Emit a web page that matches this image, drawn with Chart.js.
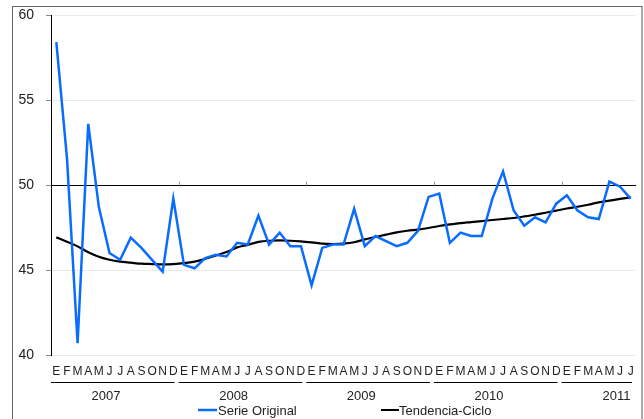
<!DOCTYPE html>
<html>
<head>
<meta charset="utf-8">
<script src="https://cdn.jsdelivr.net/npm/chart.js@4.4.1/dist/chart.umd.min.js"></script>
<style>
  html, body { margin: 0; padding: 0; background: #fff; }
  #wrap { position: relative; width: 644px; height: 419px; overflow: hidden; }
  #frame { position: absolute; left: 12px; top: 6px; width: 628px; height: 430px;
           border-left: 1px solid #666; border-top: 1px solid #666; border-right: 2px solid #aaa; }
  canvas { position: absolute; left: 0; top: 0; }
</style>
</head>
<body>
<div id="wrap">
  <div id="frame"></div>
  <canvas id="chart" width="644" height="419"></canvas>
</div>
<script>
// month initials, Spanish
const months = ["E", "F", "M", "A", "M", "J", "J", "A", "S", "O", "N", "D"];
const years = ["2007", "2008", "2009", "2010", "2011"];
const monthsIn2011 = 7;

const labels = [];
years.forEach((y, k) => {
  const n = k < years.length - 1 ? 12 : monthsIn2011;
  for (let m = 0; m < n; m++) labels.push(months[m]);
});

const serieOriginal = [
  58.4, 51.6, 40.7, 53.6, 48.7, 46.0, 45.6, 46.9, 46.3, 45.6, 44.9, 49.2,
  45.3, 45.1, 45.7, 45.9, 45.8, 46.6, 46.5, 48.2, 46.5, 47.2, 46.4, 46.4,
  44.1, 46.3, 46.5, 46.5, 48.6, 46.4, 47.0, 46.7, 46.4, 46.6, 47.3, 49.3,
  49.5, 46.6, 47.2, 47.0, 47.0, 49.2, 50.8, 48.5, 47.6, 48.1, 47.8, 48.9,
  49.4, 48.5, 48.1, 48.0, 50.2, 49.9, 49.2
];

const tendenciaCiclo = [
  46.92, 46.66, 46.39, 46.04, 45.78, 45.60, 45.49, 45.43, 45.37, 45.35, 45.33, 45.35,
  45.40, 45.49, 45.66, 45.85, 46.06, 46.33, 46.48, 46.65, 46.72, 46.74, 46.72, 46.68,
  46.63, 46.55, 46.53, 46.55, 46.63, 46.80, 46.94, 47.08, 47.21, 47.31, 47.38, 47.47,
  47.59, 47.68, 47.76, 47.82, 47.88, 47.94, 48.00, 48.06, 48.15, 48.25, 48.37, 48.49,
  48.62, 48.72, 48.84, 48.98, 49.08, 49.18, 49.27
];

const yTicks = [40, 45, 50, 55, 60];

const BLUE = "#0a6cff";
const FONT = "'Liberation Sans', Arial, sans-serif";

// years under the month letters + legend + small year ticks on the 50 line
const yearPlugin = {
  id: "years",
  afterDraw(chart) {
    const ctx = chart.ctx;
    const x = chart.scales.x;
    const y = chart.scales.y;
    const half = (x.getPixelForValue(1) - x.getPixelForValue(0)) / 2;
    ctx.save();
    let start = 0;
    years.forEach((yr, k) => {
      const n = k < years.length - 1 ? 12 : monthsIn2011;
      const left = x.getPixelForValue(start) - half;
      const right = x.getPixelForValue(start + n - 1) + half;
      ctx.strokeStyle = "#000";
      ctx.lineWidth = 1;
      ctx.beginPath();
      ctx.moveTo(left, 382.5);
      ctx.lineTo(right - 4, 382.5);
      ctx.stroke();
      ctx.fillStyle = "#222";
      ctx.font = "13px " + FONT;
      ctx.textAlign = "center";
      ctx.textBaseline = "middle";
      // excel puts the year label about 5 months in, not at the group centre
      ctx.fillText(yr, left + 55, 396);
      if (k > 0) {
        const y50 = Math.round(y.getPixelForValue(50)) + 0.5;
        ctx.strokeStyle = "#999";
        ctx.beginPath();
        ctx.moveTo(Math.round(left) + 0.5, y50);
        ctx.lineTo(Math.round(left) + 0.5, y50 - 4);
        ctx.stroke();
      }
      start += n;
    });

    // legend
    ctx.font = "13px " + FONT;
    ctx.textAlign = "left";
    ctx.textBaseline = "middle";
    ctx.lineWidth = 2.5;
    ctx.strokeStyle = BLUE;
    ctx.beginPath();
    ctx.moveTo(198, 410);
    ctx.lineTo(217, 410);
    ctx.stroke();
    ctx.fillStyle = "#222";
    ctx.fillText("Serie Original", 218, 411);
    ctx.lineWidth = 2;
    ctx.strokeStyle = "#000";
    ctx.beginPath();
    ctx.moveTo(381, 410);
    ctx.lineTo(399, 410);
    ctx.stroke();
    ctx.fillText("Tendencia-Ciclo", 399, 411);
    ctx.restore();
  }
};

new Chart(document.getElementById("chart"), {
  type: "line",
  data: {
    labels: labels,
    datasets: [
      {
        label: "Serie Original",
        data: serieOriginal,
        borderColor: BLUE,
        borderWidth: 2.5,
        pointRadius: 0,
        tension: 0,
        fill: false
      },
      {
        label: "Tendencia-Ciclo",
        data: tendenciaCiclo,
        borderColor: "#000",
        borderWidth: 2.2,
        pointRadius: 0,
        cubicInterpolationMode: "monotone",
        fill: false
      }
    ]
  },
  options: {
    responsive: false,
    animation: false,
    layout: { padding: { left: 0, right: 8, top: 15, bottom: 0 } },
    plugins: {
      legend: { display: false },
      tooltip: { enabled: false }
    },
    scales: {
      x: {
        type: "category",
        offset: true,
        grid: { display: false, drawTicks: false },
        border: { display: false },
        ticks: {
          autoSkip: false,
          maxRotation: 0,
          padding: 9,
          color: "#222",
          font: { family: FONT, size: 12 }
        },
        afterFit(s) { s.height = 64; }
      },
      y: {
        min: 40,
        max: 60,
        afterBuildTicks(s) { s.ticks = yTicks.map(v => ({ value: v })); },
        grid: {
          color: ctx => (ctx.tick && ctx.tick.value === 50 ? "#000" : "#ebebeb"),
          lineWidth: 1,
          tickLength: 5,
          tickColor: "#888"
        },
        border: { display: true, color: "#000", width: 1 },
        ticks: {
          padding: 12,
          color: "#222",
          font: { family: FONT, size: 14 }
        },
        afterFit(s) {
          s.width = 51;
          s.paddingTop = 0;
          s.paddingBottom = 0;
        }
      }
    }
  },
  plugins: [yearPlugin]
});
</script>
</body>
</html>
